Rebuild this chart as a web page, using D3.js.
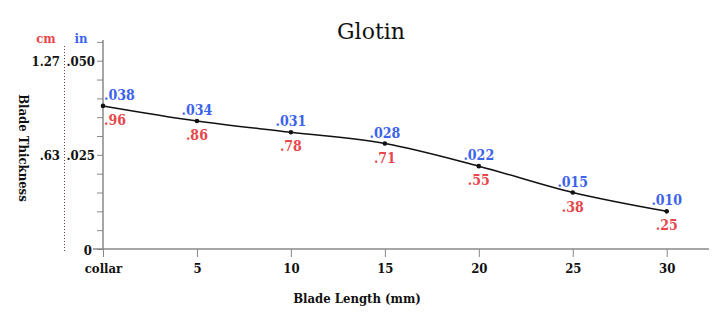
<!DOCTYPE html>
<html>
<head>
<meta charset="utf-8">
<script src="https://cdn.jsdelivr.net/npm/d3@7"></script>
<style>
  body { margin: 0; background: #fff; }
  .lbl { font-family: "DejaVu Serif Condensed", "DejaVu Serif", serif; font-weight: bold; font-size: 13px; }
</style>
</head>
<body>
<div id="chart"></div>
<script>
// data
var lengths = [0, 5, 10, 15, 20, 25, 30];
var lengthLabels = ["collar", "5", "10", "15", "20", "25", "30"];
var inches = [0.038, 0.034, 0.031, 0.028, 0.022, 0.015, 0.010];
var inLabels = [".038", ".034", ".031", ".028", ".022", ".015", ".010"];
var cmLabels = [".96", ".86", ".78", ".71", ".55", ".38", ".25"];
var inTicks = [0, 0.025, 0.05];
var inTickLabels = ["0", ".025", ".050"];
var cmTicks = [0.025, 0.05];
var cmTickLabels = [".63", "1.27"];

var red = "#e8464b", blue = "#3b63ee";
const width = 723, height = 332;

var svg = d3.select("#chart").append("svg")
    .attr("width", width)
    .attr("height", height);

// scales
var x = d3.scaleLinear().domain([0, 32.25]).range([103, 709]);
var y = d3.scaleLinear().domain([0, 0.0555]).range([249, 40]);

// title
svg.append("text")
    .attr("x", 371).attr("y", 39)
    .attr("text-anchor", "middle")
    .style("font-family", "DejaVu Serif, serif")
    .style("font-size", "22px")
    .style("fill", "#111")
    .text("Glotin");

// y axis with minor ticks every .005
var yAxis = svg.append("g")
    .attr("transform", "translate(" + x(0) + ",0)")
    .call(d3.axisLeft(y).tickValues(d3.range(0, 0.0551, 0.005)).tickSize(6).tickFormat(""));
yAxis.select(".domain").attr("stroke", "#888").attr("stroke-width", 1.5).attr("d", "M0," + y.range()[1] + "V" + y(0));
yAxis.selectAll(".tick line").attr("stroke", "#888");

// x axis
var xAxis = svg.append("g")
    .attr("transform", "translate(0," + y(0) + ")")
    .call(d3.axisBottom(x).tickValues(lengths).tickSize(8)
        .tickFormat(function (d, i) { return lengthLabels[i]; }));
xAxis.select(".domain").attr("stroke", "#888").attr("stroke-width", 1.5).attr("d", "M" + (x(0) - 10) + ",0H" + x.range()[1]);
xAxis.selectAll(".tick line").attr("stroke", "#888");
xAxis.selectAll(".tick text")
    .attr("class", "lbl")
    .attr("dy", "1em")
    .style("fill", "#111");

// inch tick labels
svg.selectAll(".inTick").data(inTicks).enter().append("text")
    .attr("class", "lbl")
    .attr("x", function (d) { return d === 0 ? 92 : 95; })
    .attr("y", function (d) { return y(d) + (d === 0 ? 6 : 5); })
    .attr("text-anchor", "end")
    .style("fill", "#111")
    .text(function (d, i) { return inTickLabels[i]; });

// cm tick labels
svg.selectAll(".cmTick").data(cmTicks).enter().append("text")
    .attr("class", "lbl")
    .attr("x", 60)
    .attr("y", function (d) { return y(d) + 5; })
    .attr("text-anchor", "end")
    .style("fill", "#111")
    .text(function (d, i) { return cmTickLabels[i]; });

// unit headers
svg.append("text").attr("class", "lbl").attr("x", 46).attr("y", 43)
    .attr("text-anchor", "middle").style("fill", red).text("cm");
svg.append("text").attr("class", "lbl").attr("x", 81).attr("y", 43)
    .attr("text-anchor", "middle").style("fill", blue).text("in");

// dotted separator
svg.append("line")
    .attr("x1", 64.5).attr("x2", 64.5)
    .attr("y1", 46).attr("y2", 251)
    .attr("stroke", "#7a3b3b")
    .attr("stroke-width", 1)
    .attr("stroke-dasharray", "1,2");

// axis titles
svg.append("text")
    .attr("class", "lbl")
    .attr("transform", "translate(19,148) rotate(90)")
    .attr("text-anchor", "middle")
    .style("fill", "#111")
    .text("Blade Thickness");

svg.append("text")
    .attr("class", "lbl")
    .attr("x", 357).attr("y", 303)
    .attr("text-anchor", "middle")
    .style("fill", "#111")
    .text("Blade Length (mm)");

// line
var line = d3.line()
    .x(function (d, i) { return x(lengths[i]); })
    .y(function (d) { return y(d); })
    .curve(d3.curveMonotoneX);

svg.append("path")
    .datum(inches)
    .attr("fill", "none")
    .attr("stroke", "#111")
    .attr("stroke-width", 1.5)
    .attr("d", line);

svg.selectAll(".pt").data(inches).enter().append("circle")
    .attr("cx", function (d, i) { return x(lengths[i]); })
    .attr("cy", function (d) { return y(d); })
    .attr("r", 2.3)
    .attr("fill", "#111");

// value labels
svg.selectAll(".inVal").data(inches).enter().append("text")
    .attr("class", "lbl")
    .attr("x", function (d, i) { return x(lengths[i]) + (i === 0 ? 1 : 0); })
    .attr("y", function (d) { return y(d) - 6; })
    .attr("text-anchor", function (d, i) { return i === 0 ? "start" : "middle"; })
    .style("fill", blue)
    .style("font-size", "14px")
    .text(function (d, i) { return inLabels[i]; });

svg.selectAll(".cmVal").data(inches).enter().append("text")
    .attr("class", "lbl")
    .attr("x", function (d, i) { return x(lengths[i]) + (i === 0 ? 1 : 0); })
    .attr("y", function (d) { return y(d) + 19; })
    .attr("text-anchor", function (d, i) { return i === 0 ? "start" : "middle"; })
    .style("fill", red)
    .style("font-size", "14px")
    .text(function (d, i) { return cmLabels[i]; });
</script>
</body>
</html>
